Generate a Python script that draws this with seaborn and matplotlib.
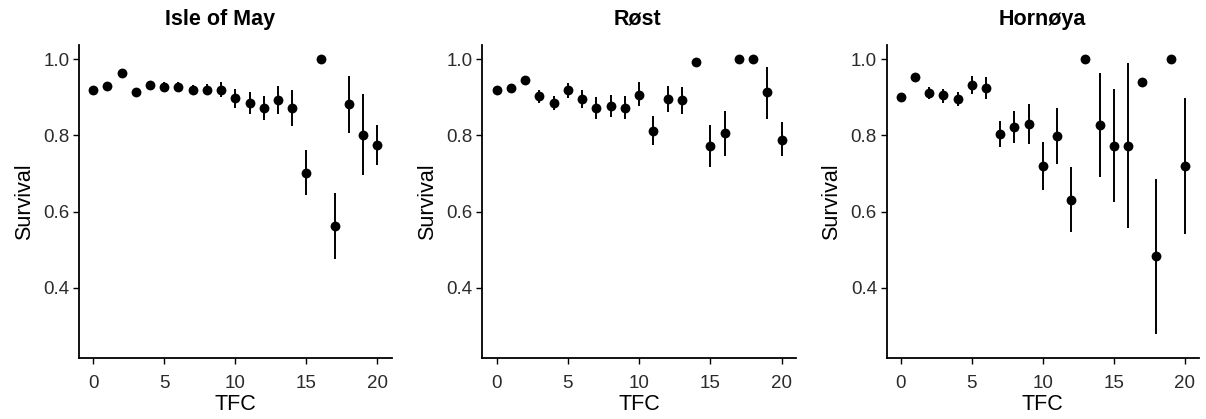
import numpy as np
import pandas as pd
import matplotlib
matplotlib.use("Agg")
import matplotlib.pyplot as plt
import seaborn as sns

sns.set_theme(style="ticks")
plt.rcParams['font.family'] = ['Liberation Sans', 'DejaVu Sans']

tfc = list(range(21))
colonies = ["Isle of May", "Røst", "Hornøya"]

may_est = [0.920, 0.929, 0.963, 0.914, 0.932, 0.927, 0.927, 0.920, 0.920, 0.920, 0.898,
           0.886, 0.872, 0.893, 0.872, 0.702, 1.000, 0.563, 0.881, 0.801, 0.774]
may_lo = [0.915, 0.925, 0.960, 0.902, 0.922, 0.915, 0.915, 0.907, 0.905, 0.900, 0.873,
          0.857, 0.841, 0.857, 0.825, 0.644, 1.000, 0.476, 0.806, 0.696, 0.721]
may_hi = [0.925, 0.933, 0.966, 0.924, 0.941, 0.941, 0.941, 0.931, 0.936, 0.939, 0.922,
          0.913, 0.904, 0.930, 0.920, 0.761, 1.000, 0.650, 0.955, 0.909, 0.826]

rost_est = [0.920, 0.925, 0.945, 0.902, 0.886, 0.918, 0.896, 0.871, 0.877, 0.873, 0.907,
            0.812, 0.895, 0.892, 0.992, 0.772, 0.806, 1.000, 1.000, 0.913, 0.789]
rost_lo = [0.911, 0.915, 0.935, 0.886, 0.867, 0.898, 0.872, 0.843, 0.848, 0.844, 0.876,
           0.775, 0.860, 0.855, 0.992, 0.717, 0.747, 1.000, 1.000, 0.844, 0.745]
rost_hi = [0.928, 0.935, 0.955, 0.920, 0.902, 0.937, 0.920, 0.900, 0.906, 0.904, 0.939,
           0.850, 0.930, 0.927, 0.992, 0.827, 0.865, 1.000, 1.000, 0.979, 0.834]

horn_est = [0.900, 0.953, 0.912, 0.905, 0.896, 0.932, 0.923, 0.803, 0.821, 0.831, 0.720,
            0.797, 0.631, 1.000, 0.826, 0.773, 0.773, 0.941, 0.483, 1.000, 0.720]
horn_lo = [0.897, 0.941, 0.896, 0.886, 0.876, 0.909, 0.895, 0.769, 0.780, 0.777, 0.657,
           0.724, 0.546, 1.000, 0.691, 0.624, 0.556, 0.941, 0.280, 1.000, 0.540]
horn_hi = [0.903, 0.963, 0.926, 0.921, 0.915, 0.955, 0.952, 0.838, 0.863, 0.883, 0.783,
           0.872, 0.717, 1.000, 0.963, 0.921, 0.991, 0.941, 0.686, 1.000, 0.899]

series = {
    "Isle of May": (may_est, may_lo, may_hi),
    "Røst": (rost_est, rost_lo, rost_hi),
    "Hornøya": (horn_est, horn_lo, horn_hi),
}

W, H = 1206, 419
fig = plt.figure(figsize=(W / 100, H / 100), dpi=100)
lefts = [79, 482.3, 886.7]
widths = [312.7, 313.7, 312.3]
title_x = [220, 637, 1042]
top_px, bot_px = 45, 358

for name, lp, wp, tx in zip(colonies, lefts, widths, title_x):
    ax = fig.add_axes([lp / W, (H - bot_px) / H, wp / W, (bot_px - top_px) / H])
    est, lo, hi = series[name]
    df = pd.DataFrame({"TFC": tfc, "Survival": est, "lo": lo, "hi": hi})
    ax.vlines(df["TFC"], df["lo"], df["hi"], color="black", linewidth=1.4, zorder=2)
    sns.scatterplot(data=df, x="TFC", y="Survival", ax=ax, color="black",
                    s=50, edgecolor="black", linewidth=0, zorder=3, legend=False)
    ax.set_xlim(-1, 21)
    ax.set_ylim(0.216, 1.037)
    ax.set_xticks([0, 5, 10, 15, 20])
    ax.set_yticks([0.4, 0.6, 0.8, 1.0])
    ax.set_yticklabels(["0.4", "0.6", "0.8", "1.0"])
    ax.tick_params(axis="both", labelsize=13.5, colors="black", labelcolor="#2b2b2b",
                   length=4, width=1.0, direction="out")
    ax.tick_params(axis="x", pad=8)
    ax.tick_params(axis="y", pad=3)
    for sp in ["top", "right"]:
        ax.spines[sp].set_visible(False)
    for sp in ["left", "bottom"]:
        ax.spines[sp].set_color("black")
        ax.spines[sp].set_linewidth(1.3)
    ax.set_xlabel("TFC", fontsize=15.5, labelpad=2, color="black")
    ax.set_ylabel("Survival", fontsize=15.5, labelpad=6, color="black")
    fig.text(tx / W, 1 - 19 / H, name, fontsize=15.5, fontweight="bold",
             ha="center", va="center", color="black")

fig.savefig("out.png", dpi=100)
